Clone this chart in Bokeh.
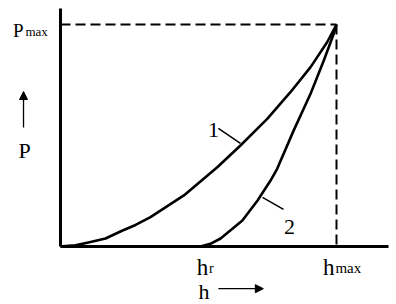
from bokeh.plotting import figure
from bokeh.models import LinearAxis, FixedTicker, Arrow, NormalHead
from bokeh.core.properties import value
from bokeh.embed import file_html
from bokeh.resources import INLINE

# --- data (h and P normalised to h_max = P_max = 1)
h_max = 1.0
P_max = 1.0
h_r = 0.507

# curve 1 (loading)
h1 = [0.0, 0.018, 0.054, 0.101, 0.163, 0.225, 0.272, 0.326, 0.447, 0.568, 0.652,
      0.749, 0.833, 0.906, 0.966, 1.0]
P1 = [0.0, 0.002, 0.005, 0.018, 0.036, 0.072, 0.097, 0.132, 0.230, 0.357, 0.455,
      0.575, 0.695, 0.808, 0.920, 1.0]

# curve 2 (unloading)
h2 = [0.507, 0.543, 0.580, 0.659, 0.714, 0.761, 0.785, 0.845, 0.906, 0.954, 0.990, 1.0]
P2 = [0.0, 0.012, 0.036, 0.117, 0.207, 0.297, 0.350, 0.523, 0.688, 0.838, 0.958, 1.0]

curve_labels = ["1", "2"]
label_x = [0.554, 0.830]
label_y = [0.527, 0.086]
leader_x0 = [0.572, 0.732]
leader_y0 = [0.532, 0.221]
leader_x1 = [0.652, 0.808]
leader_y1 = [0.464, 0.167]

FONT = value("Liberation Serif")

p = figure(width=396, height=304, x_range=(-0.2174, 1.2174), y_range=(-0.2613, 1.1081),
           output_backend="svg", toolbar_location=None, x_axis_type=None, y_axis_type=None,
           min_border=0, min_border_left=0, min_border_right=0, min_border_top=0,
           min_border_bottom=0)
p.outline_line_color = None
p.background_fill_color = "white"

def make_axis(bounds):
    ax = LinearAxis(fixed_location=0, bounds=bounds, ticker=FixedTicker(ticks=[]),
                    axis_line_width=3, axis_line_color="black",
                    major_tick_line_color=None, minor_tick_line_color=None,
                    major_label_text_font_size="0px")
    return ax

p.add_layout(make_axis((0, 1.188)), "below")
p.add_layout(make_axis((0, 1.072)), "left")

# dashed guide lines
p.line([0, h_max], [P_max, P_max], line_color="black", line_width=2, line_dash="10 5")
p.line([h_max, h_max], [P_max, 0], line_color="black", line_width=2, line_dash="10 5")

# curves
p.line(h1, P1, line_color="black", line_width=2.6, line_join="round")
p.line(h2, P2, line_color="black", line_width=2.6, line_join="round")

# curve labels and leaders
p.segment(leader_x0, leader_y0, leader_x1, leader_y1, line_color="black", line_width=1.5)
p.text(label_x, label_y, text=curve_labels, text_font=FONT, text_font_size="22px",
       text_align="center", text_baseline="alphabetic", text_color="black")

# axis labels
p.text([-0.172], [0.973], text=["P"], text_font=FONT, text_font_size="19px",
       text_baseline="alphabetic", text_color="black")
p.text([-0.127], [0.968], text=["max"], text_font=FONT, text_font_size="13px",
       text_baseline="alphabetic", text_color="black")

p.text([h_r - 0.013], [-0.095], text=["h"], text_font=FONT, text_font_size="23px",
       text_baseline="alphabetic", text_color="black")
p.text([h_r + 0.031], [-0.099], text=["r"], text_font=FONT, text_font_size="14px",
       text_baseline="alphabetic", text_color="black")

p.text([h_max - 0.049], [-0.095], text=["h"], text_font=FONT, text_font_size="23px",
       text_baseline="alphabetic", text_color="black")
p.text([h_max - 0.004], [-0.099], text=["max"], text_font=FONT, text_font_size="15px",
       text_baseline="alphabetic", text_color="black")

p.text([0.500], [-0.203], text=["h"], text_font=FONT, text_font_size="22px",
       text_baseline="alphabetic", text_color="black")
p.add_layout(Arrow(x_start=0.572, y_start=-0.190, x_end=0.735, y_end=-0.190,
                   line_width=1.3, line_color="black",
                   end=NormalHead(size=8, fill_color="black", line_color="black", line_width=1)))

p.text([-0.152], [0.432], text=["P"], text_font=FONT, text_font_size="22px",
       text_baseline="alphabetic", text_color="black")
p.add_layout(Arrow(x_start=-0.134, y_start=0.536, x_end=-0.134, y_end=0.698,
                   line_width=1.3, line_color="black",
                   end=NormalHead(size=8, fill_color="black", line_color="black", line_width=1)))

open("out.html", "w").write(file_html(p, INLINE))
